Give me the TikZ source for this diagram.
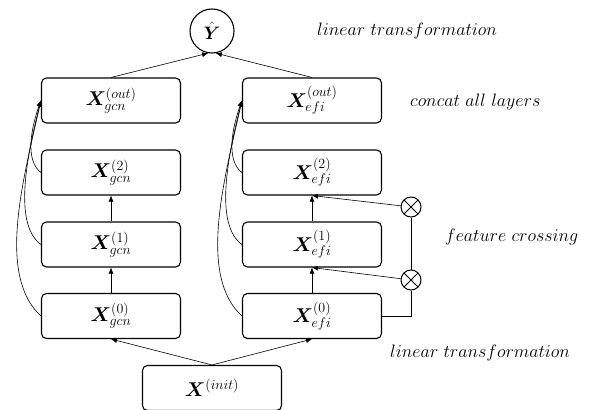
\RequirePackage{fix-cm}
\documentclass[tikz,border=0pt]{standalone}
\usepackage{bm}
\usetikzlibrary{arrows.meta}
\begin{document}
\begin{tikzpicture}[x=1pt,y=-1pt,
  box/.style={draw,line width=1.1pt,rounded corners=5pt,minimum width=139pt,minimum height=45pt,inner sep=0pt,font=\fontsize{20}{23}\selectfont},
  lbl/.style={font=\fontsize{18}{21}\selectfont,anchor=west,inner sep=0pt},
  arr/.style={line width=0.6pt,-{Latex[length=6pt,width=5pt]}},
  cross/.style={draw,circle,line width=1pt,minimum size=20pt,inner sep=0pt,
    path picture={\draw[line width=1pt] (path picture bounding box.north west)--(path picture bounding box.south east)
      (path picture bounding box.north east)--(path picture bounding box.south west);}}]
\useasboundingbox (0,0) rectangle (593,409);
\node[draw,circle,line width=1.1pt,minimum size=44pt,inner sep=0pt,font=\fontsize{18}{21}\selectfont] (Y) at (212,31) {$\hat{\bm{Y}}$};
\node[box] (gout) at (111,100.5) {$\bm{X}^{(out)}_{gcn}$};
\node[box] (g2) at (111,172.5) {$\bm{X}^{(2)}_{gcn}$};
\node[box] (g1) at (111,244.5) {$\bm{X}^{(1)}_{gcn}$};
\node[box] (g0) at (111,316) {$\bm{X}^{(0)}_{gcn}$};
\node[box] (eout) at (312,100.5) {$\bm{X}^{(out)}_{efi}$};
\node[box] (e2) at (312,172.5) {$\bm{X}^{(2)}_{efi}$};
\node[box] (e1) at (312,244.5) {$\bm{X}^{(1)}_{efi}$};
\node[box] (e0) at (312,316) {$\bm{X}^{(0)}_{efi}$};
\node[box] (init) at (212,388) {$\bm{X}^{(init)}$};
\node[cross] (c2) at (411,207) {};
\node[cross] (c1) at (411,280) {};
\node[lbl] (t1) at (317,31) {$linear\ transformation$};
\node[lbl] (t2) at (410,102) {$concat\ all\ layers$};
\node[lbl] (t3) at (445,237) {$feature\ crossing$};
\node[lbl] (t4) at (390,353) {$linear\ transformation$};
\coordinate (k) at (411,316);
% to output
\draw[arr] (gout.north) -- (Y.260);
\draw[arr] (eout.north) -- (Y.280);
% init
\draw[arr] (init.north) -- (g0.south);
\draw[arr] (init.north) -- (e0.south);
% vertical
\foreach \c in {g,e}{
  \draw[arr] (\c0.north) -- (\c1.south);
  \draw[arr] (\c1.north) -- (\c2.south);
  \draw[arr] (\c2.west) .. controls +(-16,-12) and +(-10,28) .. (\c out.west);
  \draw[arr] (\c1.west) .. controls +(-28,-20) and +(-14,55) .. (\c out.west);
  \draw[arr] (\c0.west) .. controls +(-44,-40) and +(-18,80) .. (\c out.west);
}
% feature crossing
\draw[line width=0.6pt] (e0.east) -- (k) -- (c1.south);
\draw[line width=0.6pt] (c1.north) -- (c2.south);
\draw[arr] (c1) -- (e1.south);
\draw[arr] (c2) -- (e2.south);
\end{tikzpicture}
\end{document}
